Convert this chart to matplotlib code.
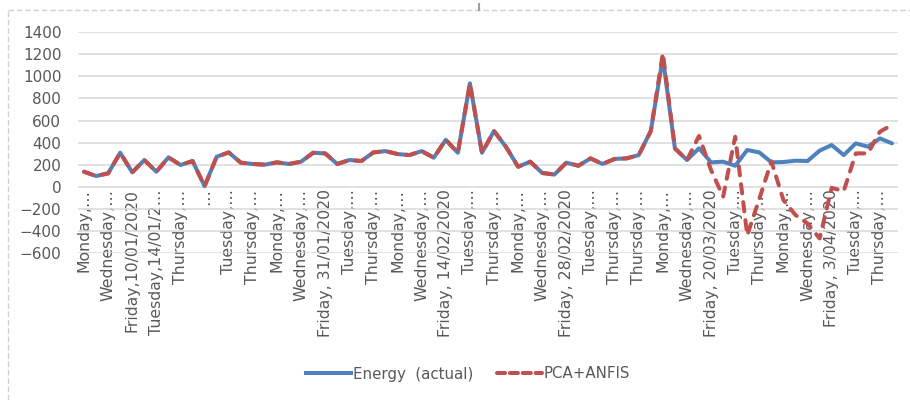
import matplotlib.pyplot as plt
from matplotlib.lines import Line2D

# valores (68 dias)
energia_real = [136, 97, 121, 308, 130, 242, 136, 266, 197, 233,
                5, 272, 311, 218, 206, 200, 221, 206, 227, 308,
                302, 206, 242, 233, 311, 323, 296, 287, 323, 263,
                425, 308, 937, 308, 505, 360, 181, 227, 125, 110,
                218, 190, 257, 206, 252, 257, 287, 505, 1170, 348,
                242, 348, 221, 227, 190, 333, 311, 221, 224, 236,
                233, 327, 378, 287, 393, 363, 438, 393]

pca_anfis = [136, 97, 121, 308, 130, 242, 136, 266, 197, 233,
             5, 272, 311, 218, 206, 200, 221, 206, 227, 308,
             302, 206, 242, 233, 311, 323, 296, 287, 323, 263,
             425, 308, 937, 308, 505, 360, 181, 227, 125, 110,
             218, 190, 257, 206, 252, 257, 287, 505, 1210, 348,
             242, 460, 150, -90, 453, -440, -110, 230, -121, -257,
             -333, -469, -10, -40, 302, 302, 499, 560]

rotulos = ['Monday,…', 'Wednesday,…', 'Friday,10/01/2020', 'Tuesday,14/01/2…',
           'Thursday,…', '…', 'Tuesday,…', 'Thursday,…', 'Monday,…',
           'Wednesday,…', 'Friday, 31/01/2020', 'Tuesday,…', 'Thursday,…',
           'Monday,…', 'Wednesday,…', 'Friday, 14/02/2020', 'Tuesday,…',
           'Thursday,…', 'Monday,…', 'Wednesday,…', 'Friday, 28/02/2020',
           'Tuesday,…', 'Thursday,…', 'Thursday,…', 'Monday,…', 'Wednesday,…',
           'Friday, 20/03/2020', 'Tuesday,…', 'Thursday,…', 'Monday,…',
           'Wednesday,…', 'Friday, 3/04/2020', 'Tuesday,…', 'Thursday,…']

azul = '#4F81BD'
vermelho = '#C0504D'
cinza = '#595959'

plt.rcParams['font.family'] = ['DejaVu Sans']

fig = plt.figure(figsize=(9.1, 4.0), dpi=100)
ax = fig.add_axes([78 / 910, 1 - 252.9 / 400, 820 / 910, (252.9 - 32.3) / 400])

dias = list(range(1, len(energia_real) + 1))
ax.plot(dias, energia_real, color=azul, lw=2.9, solid_capstyle='round',
        solid_joinstyle='round', zorder=3)
ax.plot(dias, pca_anfis, color=vermelho, lw=2.9, dashes=(2.3, 2.2),
        dash_capstyle='round', dash_joinstyle='round', zorder=4)

ax.set_xlim(0.5, len(dias) + 0.5)
ax.set_ylim(-600, 1400)
ax.set_yticks(range(-600, 1401, 200))
ax.grid(axis='y', color='#D9D9D9', lw=1.1)
ax.set_axisbelow(True)

for s in ax.spines.values():
    s.set_visible(False)
ax.spines['bottom'].set_position(('data', 0))

ax.set_xticks(dias[::2])
ax.set_xticklabels(rotulos, rotation=90, va='top', ha='center')
ax.tick_params(axis='x', length=0, pad=2, labelsize=11.3, labelcolor=cinza)
ax.tick_params(axis='y', length=0, pad=12, labelsize=11, labelcolor=cinza)

legenda = [Line2D([0], [0], color=azul, lw=2.9),
           Line2D([0], [0], color=vermelho, lw=2.9, dashes=(2.0, 1.2),
                  dash_capstyle='round')]
fig.legend(legenda, ['Energy  (actual)', 'PCA+ANFIS'], loc='center',
           bbox_to_anchor=(468 / 910, 1 - 374 / 400), ncol=2, frameon=False,
           fontsize=10.8, labelcolor=cinza, handlelength=3.0, handletextpad=0.1,
           columnspacing=1.6)

# moldura tracejada da área do gráfico
fig.add_artist(Line2D([8 / 910, 8 / 910], [0, 1 - 10 / 400], color='#D0D0D0',
                      lw=1, ls=(0, (4, 2))))
fig.add_artist(Line2D([8 / 910, 1], [1 - 10 / 400, 1 - 10 / 400], color='#D0D0D0',
                      lw=1, ls=(0, (4, 2))))
fig.add_artist(Line2D([479 / 910, 479 / 910], [1 - 4 / 400, 1 - 10 / 400],
                      color='#A0A0A0', lw=1.5))

fig.savefig('out.png', dpi=100)
